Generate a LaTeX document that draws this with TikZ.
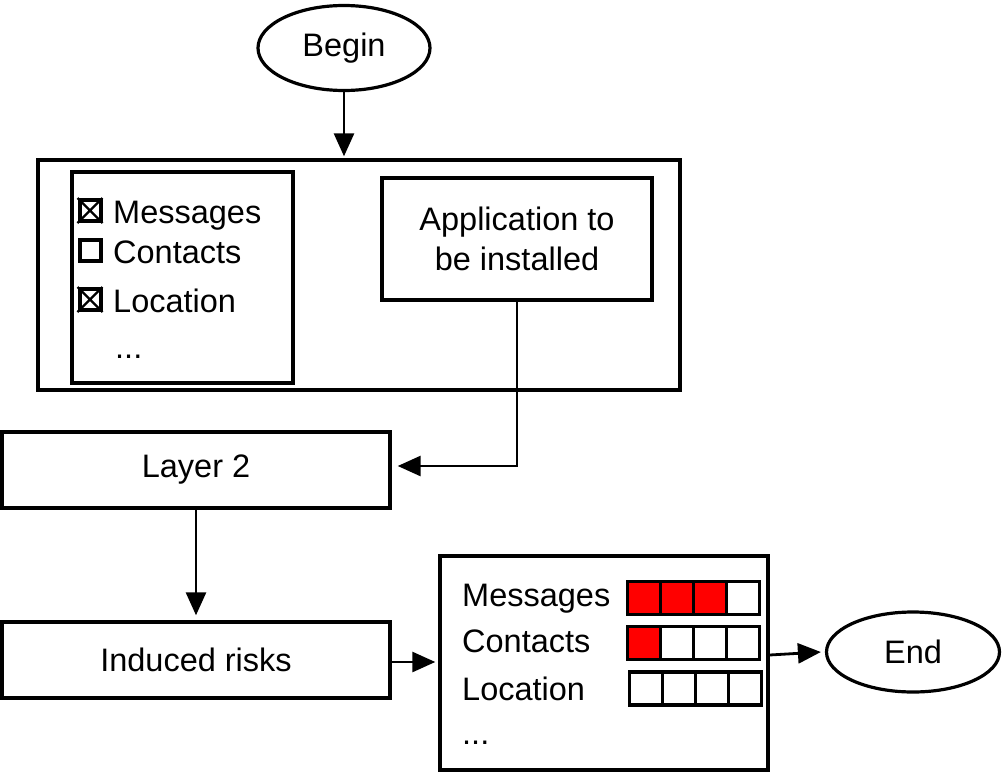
\documentclass[tikz,border=0pt]{standalone}
\usepackage{fontspec}
\setmainfont{Liberation Sans}
\usetikzlibrary{arrows.meta,shapes.geometric,positioning}
\begin{document}
\begin{tikzpicture}[x=1pt,y=-1pt,
  every node/.style={font=\fontsize{32.5}{40}\selectfont},
  box/.style={draw,line width=3.4pt,rectangle,inner sep=0pt},
  oval/.style={draw,line width=3.2pt,ellipse,inner sep=0pt},
  conn/.style={line width=2.8pt,-{Triangle[length=23pt,width=20pt]}},
  cb/.style={draw,line width=4pt,minimum size=21pt,inner sep=0pt},
  cell/.style={draw,line width=3.4pt,minimum width=33pt,minimum height=33pt,inner sep=0pt},
  lbl/.style={anchor=base west,inner sep=0pt}]
\useasboundingbox (0,0) rectangle (1004,774);
% Begin
\node[oval,minimum width=172pt,minimum height=85pt] (begin) at (344,48) {Begin};
% outer box
\node[box,minimum width=642pt,minimum height=230pt] (outer) at (359,275) {};
\node[box,minimum width=221pt,minimum height=211pt] (perm) at (182.5,277.5) {};
\node[box,minimum width=270pt,minimum height=122pt,align=center] (app) at (517,239) {Application to\\be installed};
% checkboxes
\node[cb] (cb1) at (90,210.5) {};
\draw[line width=2.4pt] (cb1.north west) -- (cb1.south east) (cb1.north east) -- (cb1.south west);
\node[cb] (cb2) at (90,250.5) {};
\node[cb] (cb3) at (90,299.5) {};
\draw[line width=2.4pt] (cb3.north west) -- (cb3.south east) (cb3.north east) -- (cb3.south west);
\node[lbl] (t1) at (113,223) {Messages};
\node[lbl] (t2) at (113,263) {Contacts};
\node[lbl] (t3) at (113,312) {Location};
\node[lbl] (t4) at (115,358) {...};
% Layer 2
\node[box,minimum width=388pt,minimum height=76pt] (layer) at (196,470) {Layer 2};
\node[box,minimum width=388pt,minimum height=76pt] (induced) at (196,660) {Induced risks};
% result box
\node[box,minimum width=328pt,minimum height=214pt] (result) at (604,663) {};
\node[lbl] (r1) at (462,606) {Messages};
\node[lbl] (r2) at (462,652) {Contacts};
\node[lbl] (r3) at (462,700) {Location};
\node[lbl] (r4) at (462,744) {...};
% bars
\foreach \i/\c in {0/red,1/red,2/red,3/white}
  \node[cell,fill=\c] (m\i) at (644+33*\i,598) {};
\foreach \i/\c in {0/red,1/white,2/white,3/white}
  \node[cell,fill=\c] (c\i) at (644+33*\i,643) {};
\foreach \i/\c in {0/white,1/white,2/white,3/white}
  \node[cell,fill=\c] (l\i) at (646+33*\i,688.5) {};
% End
\node[oval,minimum width=173pt,minimum height=80pt] (end) at (913,652) {End};
% connectors
\draw[conn] (begin.south) -- ([yshift=2pt]begin.south |- outer.north);
\coordinate (l2in) at ([yshift=4pt]layer.east);
\draw[conn] (app.south) |- ([xshift=6pt]l2in);
\draw[conn] (layer.south) -- ([yshift=5pt]induced.north);
\draw[conn] ([yshift=-2pt]induced.east) -- ([xshift=-3pt,yshift=-2pt]induced.east -| result.west);
\draw[conn] ([yshift=8pt]result.east) -- ([xshift=-4pt]end.west);
\end{tikzpicture}
\end{document}
